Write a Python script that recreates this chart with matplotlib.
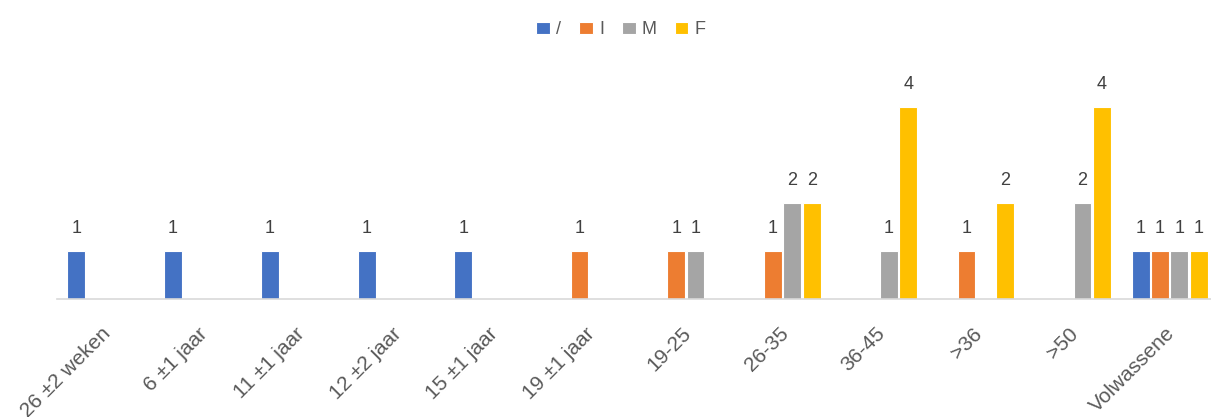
import matplotlib
matplotlib.use("Agg")
import matplotlib.pyplot as plt
import matplotlib.transforms as mtransforms
import numpy as np

categories = ["26 ±2 weken", "6 ±1 jaar", "11 ±1 jaar", "12 ±2 jaar", "15 ±1 jaar",
              "19 ±1 jaar", "19-25", "26-35", "36-45", ">36", ">50", "Volwassene"]
series_names = ["/", "I", "M", "F"]
s_slash = [1, 1, 1, 1, 1, 0, 0, 0, 0, 0, 0, 1]
s_I     = [0, 0, 0, 0, 0, 1, 1, 1, 0, 1, 0, 1]
s_M     = [0, 0, 0, 0, 0, 0, 1, 2, 1, 0, 2, 1]
s_F     = [0, 0, 0, 0, 0, 0, 0, 2, 4, 2, 4, 1]
colors = ["#4472C4", "#ED7D31", "#A5A5A5", "#FFC000"]

plt.rcParams['font.family'] = ['Liberation Sans', 'DejaVu Sans']

W, H = 1211, 417
fig = plt.figure(figsize=(W/100, H/100), dpi=100)
unit_px = 48
ymax = 4.6
left_px, right_px, base_px = 57, 1218, 299
ax = fig.add_axes([left_px/W, (H-base_px)/H, (right_px-left_px)/W, ymax*unit_px/H])

x = np.arange(len(categories))
slot = 0.2
bw = 0.185
all_series = [s_slash, s_I, s_M, s_F]
for i, (vals, name, c) in enumerate(zip(all_series, series_names, colors)):
    pos = x + (i - 1.5) * slot
    ax.bar(pos, vals, width=bw, color=c, edgecolor="white", linewidth=0.8, label=name)
    for p, v in zip(pos, vals):
        if v:
            ax.text(p, v + 0.30, str(v), ha="center", va="bottom", fontsize=13, color="#404040")

ax.set_xlim(-0.5, len(categories) - 0.5)
ax.set_ylim(0, ymax)
ax.set_yticks([])
for s in ["top", "right", "left"]:
    ax.spines[s].set_visible(False)
ax.spines["bottom"].set_color("#D9D9D9")
ax.spines["bottom"].set_linewidth(1.2)
ax.set_xticks(x)
ax.set_xticklabels(categories, rotation=45, ha="right", rotation_mode="anchor",
                   fontsize=15, color="#595959")
ax.tick_params(axis="x", length=0, pad=18)
offset = mtransforms.ScaledTranslation(-4/100, 0, fig.dpi_scale_trans)
for lab in ax.get_xticklabels():
    lab.set_transform(lab.get_transform() + offset)

fig.legend(loc="upper center", bbox_to_anchor=(621/W, 1.0 - 5/H), ncol=4, frameon=False,
           fontsize=13, handlelength=0.75, handleheight=0.7, handletextpad=0.35,
           columnspacing=1.0, labelcolor="#595959")

fig.savefig("out.png", dpi=100)
